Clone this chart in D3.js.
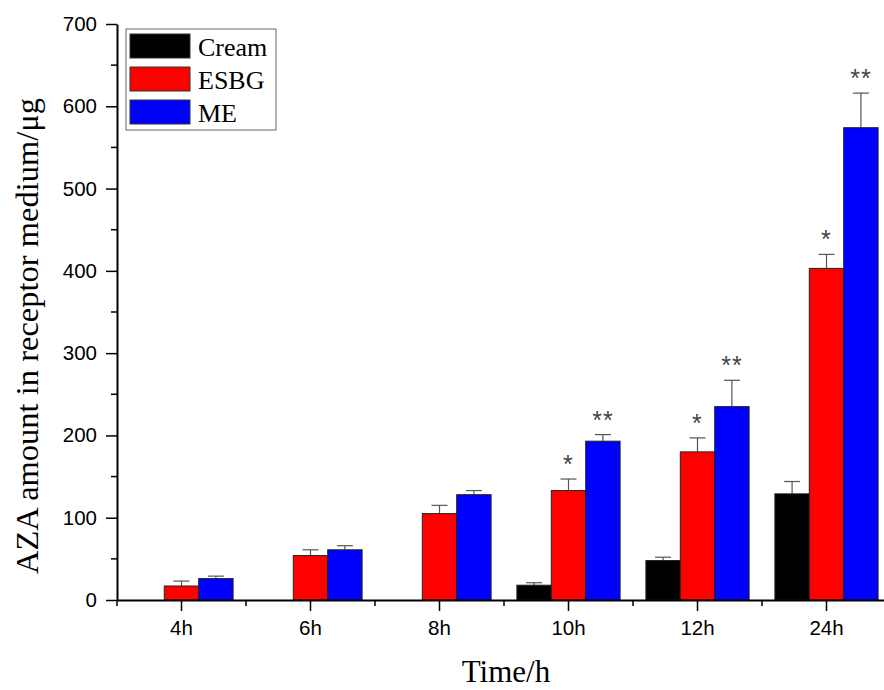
<!DOCTYPE html>
<html>
<head>
<meta charset="utf-8">
<script src="https://cdn.jsdelivr.net/npm/d3@7"></script>
<style>
  body { margin: 0; background: #fff; }
  svg { display: block; }
</style>
</head>
<body>
<svg id="chart" width="884" height="690"></svg>
<script>
// categories and series
const times = ["4h", "6h", "8h", "10h", "12h", "24h"];
const seriesNames = ["Cream", "ESBG", "ME"];
const seriesColors = ["#000000", "#ff0000", "#0000ff"];
const cream = [0, 0, 0, 18, 48, 129];
const creamErr = [0, 0, 0, 3, 4, 15];
const esbg = [17, 54, 105, 133, 180, 403];
const esbgErr = [6, 7, 10, 14, 17, 17];
const me = [26, 61, 128, 193, 235, 574];
const meErr = [3, 5, 5, 8, 32, 42];
const stars = [["", "", ""], ["", "", ""], ["", "", ""], ["", "*", "**"], ["", "*", "**"], ["", "*", "**"]];
const yTicks = [0, 100, 200, 300, 400, 500, 600, 700];

const values = [cream, esbg, me];
const errors = [creamErr, esbgErr, meErr];

const svg = d3.select("#chart");
const plotLeft = 117, plotRight = 891, plotTop = 24, plotBottom = 600;

const x = d3.scaleBand().domain(times).range([plotLeft, plotRight]).paddingInner(0.2).paddingOuter(0.1);
const x1 = d3.scaleBand().domain(seriesNames).range([0, x.bandwidth()]);
const y = d3.scaleLinear().domain([0, 700]).range([plotBottom, plotTop]);

// bars
const groups = svg.append("g").selectAll("g")
  .data(times)
  .join("g")
  .attr("transform", d => "translate(" + x(d) + ",0)");

seriesNames.forEach((name, s) => {
  groups.each(function(t, i) {
    const v = values[s][i];
    if (!v) return;
    const g = d3.select(this);
    const cx = x1(name) + x1.bandwidth() / 2;
    // error bar
    const ey = y(v + errors[s][i]);
    g.append("line")
      .attr("x1", cx).attr("x2", cx)
      .attr("y1", y(v)).attr("y2", ey)
      .attr("stroke", "#555").attr("stroke-width", 1.2);
    g.append("line")
      .attr("x1", cx - 8).attr("x2", cx + 8)
      .attr("y1", ey).attr("y2", ey)
      .attr("stroke", "#555").attr("stroke-width", 1.2);
    g.append("rect")
      .attr("x", x1(name))
      .attr("y", y(v))
      .attr("width", x1.bandwidth())
      .attr("height", y(0) - y(v))
      .attr("fill", seriesColors[s])
      .attr("stroke", "#222")
      .attr("stroke-width", 1);
    if (stars[i][s]) {
      g.append("text")
        .attr("x", cx)
        .attr("y", ey - 6)
        .attr("text-anchor", "middle")
        .attr("font-family", "Liberation Sans, Arial, sans-serif")
        .attr("font-size", 25)
        .attr("fill", "#444")
        .attr("letter-spacing", 1)
        .text(stars[i][s]);
    }
  });
});

// y axis
const yAxis = svg.append("g")
  .attr("transform", "translate(" + plotLeft + ",0)")
  .call(d3.axisLeft(y).tickValues(yTicks).tickSize(11).tickPadding(9).tickSizeOuter(0));
yAxis.select(".domain").attr("stroke", "#000").attr("stroke-width", 2);
yAxis.selectAll(".tick line").attr("stroke", "#000").attr("stroke-width", 1.5);
yAxis.selectAll("text")
  .attr("font-family", "Liberation Sans, Arial, sans-serif")
  .attr("font-size", 20.5).attr("fill", "#000");
// minor ticks
svg.append("g").selectAll("line")
  .data(yTicks.slice(0, -1).map(v => v + 50))
  .join("line")
  .attr("x1", plotLeft - 6).attr("x2", plotLeft)
  .attr("y1", d => y(d)).attr("y2", d => y(d))
  .attr("stroke", "#000").attr("stroke-width", 1.5);

// x axis
const xAxis = svg.append("g")
  .attr("transform", "translate(0," + plotBottom + ")")
  .call(d3.axisBottom(x).tickSize(11).tickPadding(9).tickSizeOuter(0));
xAxis.select(".domain").attr("stroke", "#000").attr("stroke-width", 2);
xAxis.selectAll(".tick line").attr("stroke", "#000").attr("stroke-width", 1.5);
xAxis.selectAll("text")
  .attr("font-family", "Liberation Sans, Arial, sans-serif")
  .attr("font-size", 20.5).attr("fill", "#000");
// small ticks between groups
const step = x.step();
svg.append("g").selectAll("line")
  .data(times.map((t, i) => i))
  .join("line")
  .attr("x1", i => plotLeft + i * step).attr("x2", i => plotLeft + i * step)
  .attr("y1", plotBottom).attr("y2", plotBottom + 6)
  .attr("stroke", "#000").attr("stroke-width", 1.5);

// axis titles
svg.append("text")
  .attr("transform", "translate(38,336) rotate(-90)")
  .attr("text-anchor", "middle")
  .attr("font-family", "Liberation Serif, Times New Roman, serif")
  .attr("font-size", 32.5)
  .text("AZA amount in receptor medium/μg");
svg.append("text")
  .attr("x", 506).attr("y", 682)
  .attr("text-anchor", "middle")
  .attr("font-family", "Liberation Serif, Times New Roman, serif")
  .attr("font-size", 31)
  .text("Time/h");

// legend
const legend = svg.append("g");
legend.append("rect")
  .attr("x", 126).attr("y", 29).attr("width", 150).attr("height", 101)
  .attr("fill", "#fff").attr("stroke", "#666").attr("stroke-width", 1);
seriesNames.forEach((name, s) => {
  legend.append("rect")
    .attr("x", 130).attr("y", 34 + s * 33).attr("width", 60).attr("height", 24)
    .attr("fill", seriesColors[s]).attr("stroke", "#333").attr("stroke-width", 1);
  legend.append("text")
    .attr("x", 198).attr("y", 56 + s * 33)
    .attr("font-family", "Liberation Serif, Times New Roman, serif")
    .attr("font-size", 26)
    .text(name);
});
</script>
</body>
</html>
